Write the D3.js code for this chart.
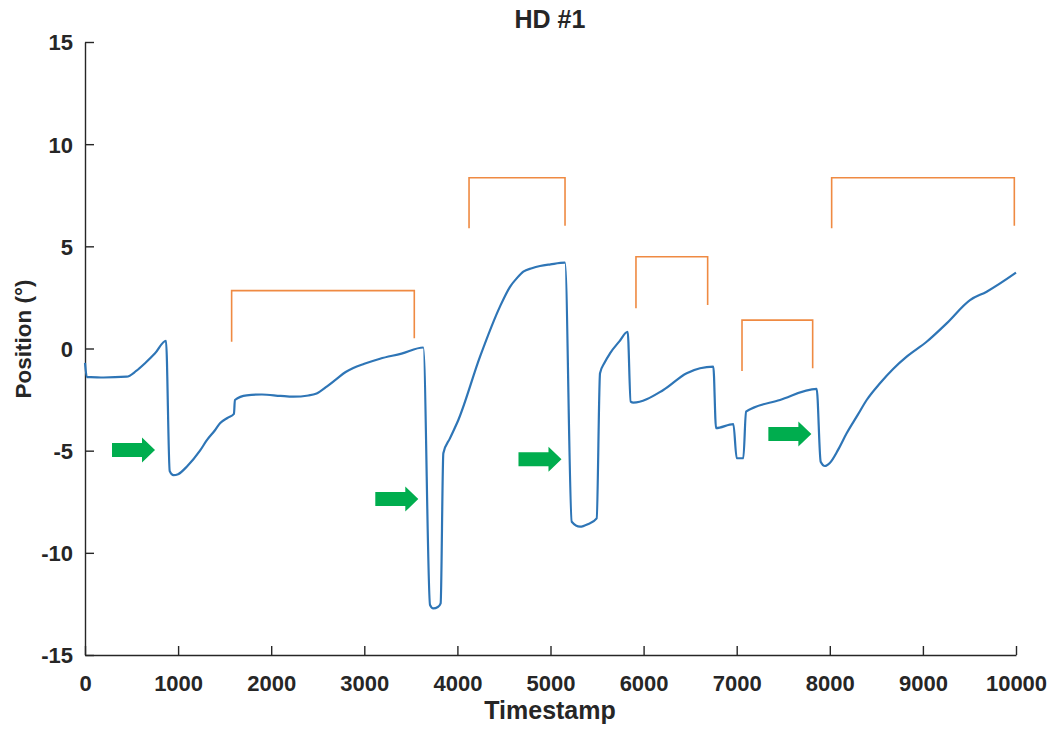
<!DOCTYPE html>
<html>
<head>
<meta charset="utf-8">
<script src="https://cdn.jsdelivr.net/npm/d3@7"></script>
<style>
  body { margin: 0; background: #fff; }
  text { font-family: "Liberation Sans", Arial, Helvetica, sans-serif; font-weight: bold; fill: #262626; }
</style>
</head>
<body>
<svg id="chart" width="1057" height="729"></svg>
<script>
// ------------------- data ------------------------------------------
var timestamps = [0, 20, 60, 200, 447, 550, 650, 750, 870, 910, 950, 1000, 1100, 1235, 1307, 1396,
  1450, 1530, 1600, 1610, 1737, 1900, 2100, 2237, 2400, 2488, 2600, 2700, 2800, 2882, 3000, 3169, 3400, 3634,
  3706, 3741, 3790, 3820, 3849, 3920, 4010, 4243, 4457, 4565, 4640, 4708, 4800, 4887, 5000, 5156, 5228, 5317,
  5400, 5496, 5532, 5580, 5639, 5740, 5829, 5861, 5890, 6212, 6463, 6749, 6778, 6964, 7000, 7071, 7100,
  7465, 7859, 7902, 7948, 8000, 8090, 8181, 8300, 8396, 8539, 8680, 8826, 9040, 9255, 9506, 9685, 10000];
var positions = [-0.7, -1.4, -1.4, -1.42, -1.38, -1.1, -0.7, -0.25, 0.38, -6.0, -6.2, -6.15, -5.75, -5.0, -4.5, -4.0,
  -3.66, -3.4, -3.2, -2.52, -2.29, -2.25, -2.32, -2.36, -2.3, -2.2, -1.85, -1.5, -1.15, -0.95, -0.75, -0.5, -0.25, 0.05,
  -12.55, -12.72, -12.65, -12.47, -5.13, -4.4, -3.5, -0.4, 2.05, 3.02, 3.45, 3.76, 3.93, 4.04, 4.12, 4.2, -8.48, -8.72,
  -8.6, -8.31, -1.21, -0.7, -0.24, 0.35, 0.82, -2.6, -2.65, -2.03, -1.21, -0.89, -3.9, -3.7, -5.37, -5.37, -3.09,
  -2.52, -1.98, -5.54, -5.75, -5.6, -4.95, -4.15, -3.25, -2.52, -1.7, -1.0, -0.4, 0.33, 1.23, 2.37, 2.78, 3.71];

// orange brackets: [start, end], top, left foot, right foot
var bracketStart = [1575, 4125, 5918, 7057, 8020];
var bracketEnd   = [3537, 5156, 6688, 7816, 9982];
var bracketTop   = [2.83, 8.36, 4.49, 1.39, 8.36];
var bracketLeftFoot  = [0.33, 5.88, 1.97, -1.1, 5.88];
var bracketRightFoot = [0.5, 6.01, 2.13, -0.97, 6.01];

// green arrows (tip position)
var arrowTipX = [752, 3580, 5118, 7802];
var arrowTipY = [-4.97, -7.37, -5.42, -4.19];

var xTicks = [0, 1000, 2000, 3000, 4000, 5000, 6000, 7000, 8000, 9000, 10000];
var yTicks = [-15, -10, -5, 0, 5, 10, 15];

// ------------------- layout ------------------------
var margin = {left: 85, top: 42, right: 41, bottom: 74};
var width = 1057 - margin.left - margin.right;
var height = 729 - margin.top - margin.bottom;

var svg = d3.select("#chart");
var groupMain = svg.append("g")
    .attr("transform", "translate(" + margin.left + " " + margin.top + ")");

var x = d3.scaleLinear().domain([0, 10000]).range([0, width]);
var y = d3.scaleLinear().domain([-15, 15]).range([height, 0]);

// plain integer labels with ascii minus (MATLAB style)
var fmt = function(d) { return String(d); };

// axes (ticks point inward, like MATLAB)
var xAxis = groupMain.append("g")
    .attr("transform", "translate(0 " + height + ")")
    .call(d3.axisBottom(x).tickValues(xTicks).tickFormat(fmt).tickSizeInner(-9).tickSizeOuter(0).tickPadding(20));
var yAxis = groupMain.append("g")
    .call(d3.axisLeft(y).tickValues(yTicks).tickFormat(fmt).tickSizeInner(-9).tickSizeOuter(0).tickPadding(12));

[xAxis, yAxis].forEach(function(a){
  a.select(".domain").attr("stroke", "#262626").attr("stroke-width", 1.4);
  a.selectAll(".tick line").attr("stroke", "#262626").attr("stroke-width", 1.4);
  a.selectAll(".tick text")
    .style("font-size", "22px")
    .style("font-family", "'Liberation Sans', Arial, sans-serif")
    .style("font-weight", "bold")
    .attr("fill", "#262626");
});
yAxis.selectAll(".tick text").attr("dy", "0.36em");

// ------------------- the trace ------------------------
var line = d3.line()
    .x(function(d, i) { return x(timestamps[i]); })
    .y(function(d) { return y(d); })
    .curve(d3.curveMonotoneX);

groupMain.append("path")
    .datum(positions)
    .attr("fill", "none")
    .attr("stroke", "#2e75b6")
    .attr("stroke-width", 2.2)
    .attr("stroke-linejoin", "round")
    .attr("d", line);

// ------------------- brackets ------------------------
groupMain.selectAll(".bracket")
    .data(bracketStart)
  .enter().append("path")
    .attr("class", "bracket")
    .attr("fill", "none")
    .attr("stroke", "#ef8a42")
    .attr("stroke-width", 1.6)
    .attr("d", function(d, i) {
      return "M" + x(d) + "," + y(bracketLeftFoot[i])
        + "L" + x(d) + "," + y(bracketTop[i])
        + "L" + x(bracketEnd[i]) + "," + y(bracketTop[i])
        + "L" + x(bracketEnd[i]) + "," + y(bracketRightFoot[i]);
    });

// ------------------- arrows ------------------------
var arrowShape = [[-43, -7], [-13, -7], [-13, -12.5], [0, 0], [-13, 12.5], [-13, 7], [-43, 7]];
groupMain.selectAll(".arrow")
    .data(arrowTipX)
  .enter().append("polygon")
    .attr("class", "arrow")
    .attr("fill", "#00ad4e")
    .attr("transform", function(d, i) {
      return "translate(" + x(d) + " " + y(arrowTipY[i]) + ")";
    })
    .attr("points", arrowShape.map(function(p){ return p.join(","); }).join(" "));

// ------------------- labels ------------------------
svg.append("text")
    .attr("x", 550).attr("y", 28)
    .attr("text-anchor", "middle")
    .style("font-size", "25px")
    .text("HD #1");

svg.append("text")
    .attr("x", 550).attr("y", 719)
    .attr("text-anchor", "middle")
    .style("font-size", "25px")
    .text("Timestamp");

svg.append("text")
    .attr("transform", "translate(31 339) rotate(-90)")
    .attr("text-anchor", "middle")
    .style("font-size", "22.5px")
    .text("Position (°)");
</script>
</body>
</html>
